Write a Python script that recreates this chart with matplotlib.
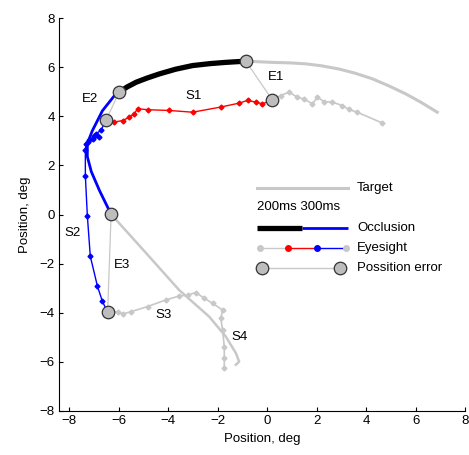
import matplotlib
matplotlib.use("Agg")
import matplotlib.pyplot as plt

plt.rcParams["font.family"] = ["Liberation Sans", "DejaVu Sans"]
plt.rcParams["font.size"] = 9.5

# -----------------------------
# DATA
# -----------------------------
# target before occlusion (gray)
target_pre_x = [6.87, 6.20, 5.59, 4.90, 4.25, 3.55, 2.90, 2.20, 1.56, 0.90, 0.21, -0.86]
target_pre_y = [4.17, 4.58, 4.92, 5.25, 5.53, 5.76, 5.93, 6.06, 6.14, 6.18, 6.20, 6.25]
# target during occlusion, first 200 ms (black)
occl1_x = [-0.86, -1.67, -2.30, -3.01, -3.70, -4.35, -4.85, -5.29, -5.65, -5.97]
occl1_y = [6.25, 6.20, 6.15, 6.07, 5.92, 5.73, 5.56, 5.39, 5.20, 4.99]
# target during occlusion, next 300 ms (blue)
occl2_x = [-5.97, -6.17, -6.65, -7.06, -7.26, -7.26, -7.10, -6.77, -6.30]
occl2_y = [4.99, 4.84, 4.23, 3.41, 2.89, 2.36, 1.75, 0.98, 0.01]
# target after occlusion (gray)
target_post_x = [-6.30, -5.03, -3.55, -2.34, -1.67, -1.26, -1.13, -1.26]
target_post_y = [0.01, -1.41, -3.08, -4.16, -4.97, -5.65, -5.99, -6.12]

# eye before occlusion (gray)
eye_pre_x = [4.65, 3.64, 3.30, 3.04, 2.63, 2.30, 2.03, 1.83, 1.50, 1.22, 0.89, 0.55, 0.21]
eye_pre_y = [3.73, 4.17, 4.28, 4.44, 4.58, 4.60, 4.78, 4.51, 4.70, 4.78, 4.99, 4.85, 4.67]
# eye during first 200 ms of occlusion (red)
eye_red_x = [0.21, -0.19, -0.46, -0.79, -1.13, -1.87, -3.01, -3.95, -4.79, -5.23, -5.36, -5.56, -5.83, -6.17, -6.50]
eye_red_y = [4.67, 4.51, 4.58, 4.65, 4.54, 4.38, 4.17, 4.24, 4.27, 4.31, 4.11, 3.97, 3.83, 3.77, 3.86]
# eye during next 300 ms (blue)
eye_blue_x = [-6.50, -6.71, -6.91, -6.77, -7.04, -6.98, -7.18, -7.25, -7.31, -7.34, -7.34, -7.26, -7.14, -6.85, -6.65, -6.44]
eye_blue_y = [3.86, 3.43, 3.29, 3.16, 3.09, 3.22, 3.02, 2.96, 2.89, 2.64, 1.59, -0.04, -1.70, -2.93, -3.54, -3.98]
# eye after occlusion (gray, S3 / S4)
eye_post_x = [-6.44, -6.04, -5.83, -5.50, -4.83, -4.09, -3.55, -3.21, -2.88, -2.54, -2.20, -1.80, -1.87, -1.80, -1.73, -1.73, -1.73]
eye_post_y = [-3.98, -3.96, -4.05, -3.96, -3.75, -3.48, -3.32, -3.28, -3.18, -3.41, -3.62, -3.89, -4.23, -4.70, -5.38, -5.85, -6.26]

# position errors: (target point, eye point)
err_labels = ["E1", "E2", "E3"]
err_target = [(-0.86, 6.25), (-5.97, 4.99), (-6.30, 0.01)]
err_eye = [(0.21, 4.67), (-6.50, 3.86), (-6.44, -3.98)]

# annotation texts
ann_text = ["E1", "E2", "S1", "S2", "E3", "S3", "S4"]
ann_x = [0.36, -7.15, -2.95, -7.85, -5.85, -4.2, -1.1]
ann_y = [5.60, 4.70, 4.85, -0.77, -2.07, -4.10, -5.00]

ticks = [-8, -6, -4, -2, 0, 2, 4, 6, 8]

GRAY = "#c8c8c8"
CIRC = "#bdbdbd"


def main() -> None:
    fig = plt.figure(figsize=(4.69, 4.55), dpi=100)
    ax = fig.add_axes([0.126, 0.097, 0.866, 0.863])

    # target
    ax.plot(target_pre_x, target_pre_y, color=GRAY, lw=2.2, zorder=2)
    ax.plot(target_post_x, target_post_y, color=GRAY, lw=1.8, zorder=2)
    ax.plot(occl1_x, occl1_y, color="black", lw=3.8, zorder=3)
    ax.plot(occl2_x, occl2_y, color="#0000ff", lw=2.0, zorder=3)

    # eye
    ax.plot(eye_pre_x, eye_pre_y, color=GRAY, lw=1.2, marker="D", ms=2.5, zorder=2)
    ax.plot(eye_post_x, eye_post_y, color=GRAY, lw=1.2, marker="D", ms=2.5, zorder=2)
    ax.plot(eye_red_x, eye_red_y, color="#ff0000", lw=1.0, marker="D", ms=2.5, zorder=4)
    ax.plot(eye_blue_x, eye_blue_y, color="#0000ff", lw=1.0, marker="D", ms=2.5, zorder=4)

    # position errors
    for (tx, ty), (ex, ey) in zip(err_target, err_eye):
        ax.plot([tx, ex], [ty, ey], color=GRAY, lw=0.9, zorder=1)
        ax.plot([tx, ex], [ty, ey], ls="none", marker="o", ms=9, mfc=CIRC,
                mec="#333333", mew=0.9, zorder=6)

    for t, x, y in zip(ann_text, ann_x, ann_y):
        ax.text(x, y, t, ha="center", va="center", zorder=7)

    # hand-drawn legend (axes coords)
    tr = ax.transAxes
    ax.plot([0.488, 0.712], [0.567, 0.567], transform=tr, color=GRAY, lw=2.2)
    ax.text(0.734, 0.567, "Target", transform=tr, va="center")
    ax.text(0.488, 0.518, "200ms 300ms", transform=tr, va="center")
    ax.plot([0.488, 0.599], [0.465, 0.465], transform=tr, color="black", lw=3.8, solid_capstyle="butt")
    ax.plot([0.599, 0.712], [0.465, 0.465], transform=tr, color="#0000ff", lw=2.0, solid_capstyle="butt")
    ax.text(0.734, 0.465, "Occlusion", transform=tr, va="center")
    ax.plot([0.495, 0.564], [0.415, 0.415], transform=tr, color=GRAY, lw=1.0)
    ax.plot([0.564, 0.635], [0.415, 0.415], transform=tr, color="#ff0000", lw=1.0)
    ax.plot([0.635, 0.707], [0.415, 0.415], transform=tr, color="#0000ff", lw=1.0)
    ax.plot([0.495, 0.707], [0.415, 0.415], transform=tr, ls="none", marker="o", ms=4, color=GRAY)
    ax.plot([0.564], [0.415], transform=tr, marker="o", ms=4, color="#ff0000")
    ax.plot([0.635], [0.415], transform=tr, marker="o", ms=4, color="#0000ff")
    ax.text(0.734, 0.415, "Eyesight", transform=tr, va="center")
    ax.plot([0.500, 0.692], [0.364, 0.364], transform=tr, color=GRAY, lw=1.0)
    ax.plot([0.500, 0.692], [0.364, 0.364], transform=tr, ls="none", marker="o", ms=9,
            mfc=CIRC, mec="#333333", mew=0.9)
    ax.text(0.734, 0.364, "Possition error", transform=tr, va="center")

    ax.set_xlim(-8.4, 8)
    ax.set_ylim(-8, 8)
    ax.set_xticks(ticks)
    ax.set_yticks(ticks)
    ax.tick_params(direction="in", length=3, width=0.8, pad=3)
    for s in ["top", "right"]:
        ax.spines[s].set_visible(False)
    ax.set_xlabel("Position, deg", labelpad=4)
    ax.set_ylabel("Position, deg", labelpad=6)

    fig.savefig("out.png", dpi=100)
    plt.close(fig)


if __name__ == "__main__":
    main()
